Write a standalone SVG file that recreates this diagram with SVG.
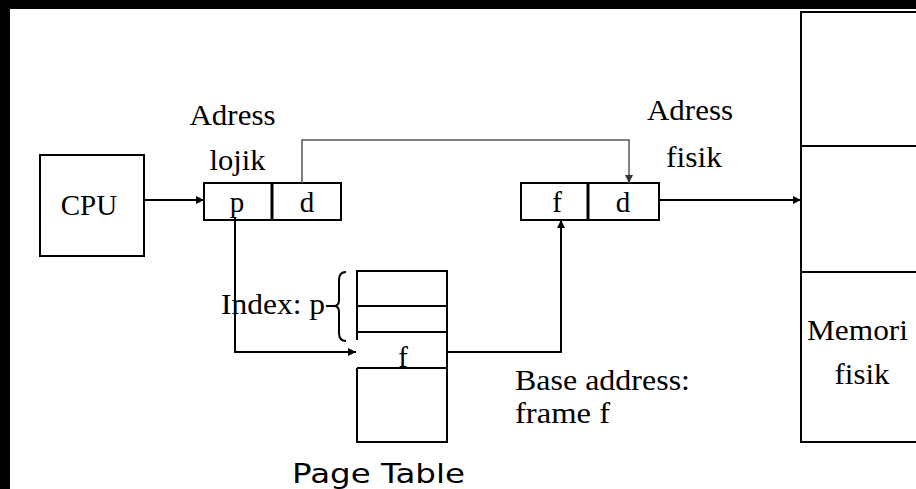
<svg xmlns="http://www.w3.org/2000/svg" width="916" height="489" viewBox="0 0 916 489">
<style>
.ln{fill:none;stroke:#000;stroke-width:2}
.gl{fill:none;stroke:#555;stroke-width:1.5}
.t{font-family:"Liberation Serif","Times New Roman",serif;font-size:29px;fill:#000}
.s{font-family:"DejaVu Sans",Verdana,sans-serif;font-size:27px;fill:#000}
</style>
<defs>
<marker id="ah" viewBox="0 0 10 10" refX="10" refY="5" markerWidth="10" markerHeight="8" markerUnits="userSpaceOnUse" orient="auto">
<path d="M0,0 L10,5 L0,10 z" fill="#000"/>
</marker>
<marker id="ahg" viewBox="0 0 10 10" refX="10" refY="5" markerWidth="10" markerHeight="8" markerUnits="userSpaceOnUse" orient="auto">
<path d="M0,0 L10,5 L0,10 z" fill="#333"/>
</marker>
</defs>
<rect x="0" y="0" width="916" height="489" fill="#000"/>
<rect x="10" y="9" width="906" height="480" fill="#fff"/>

<g id="cpu">
<rect class="ln" x="40" y="155" width="104" height="101"/>
<text class="t" x="89" y="215" text-anchor="middle">CPU</text>
</g>

<g id="logical-address">
<rect class="ln" x="204" y="183" width="137" height="37"/>
<line x1="272" y1="183" x2="272" y2="220" stroke="#000" stroke-width="3"/>
<text class="t" x="237" y="212" text-anchor="middle">p</text>
<text class="t" x="307" y="212" text-anchor="middle">d</text>
<text class="t" x="232.5" y="125" text-anchor="middle" textLength="86" lengthAdjust="spacingAndGlyphs">Adress</text>
<text class="t" x="237.5" y="170" text-anchor="middle" textLength="56" lengthAdjust="spacingAndGlyphs">lojik</text>
</g>

<g id="physical-address">
<rect class="ln" x="521" y="183" width="138" height="37"/>
<line x1="588" y1="183" x2="588" y2="220" stroke="#000" stroke-width="3"/>
<text class="t" x="557" y="212" text-anchor="middle">f</text>
<text class="t" x="623" y="212" text-anchor="middle">d</text>
<text class="t" x="690" y="120" text-anchor="middle" textLength="86" lengthAdjust="spacingAndGlyphs">Adress</text>
<text class="t" x="694" y="167" text-anchor="middle" textLength="56" lengthAdjust="spacingAndGlyphs">fisik</text>
</g>

<g id="page-table">
<path class="ln" d="M357,340 L357,271 L447,271 L447,442 L357,442 L357,368"/>
<line class="ln" x1="357" y1="306" x2="447" y2="306"/>
<line class="ln" x1="357" y1="332" x2="447" y2="332"/>
<line class="ln" x1="357" y1="368" x2="447" y2="368"/>
<text class="t" x="403" y="367" text-anchor="middle">f</text>
<path class="ln" d="M346,272 Q339,272 339,280 L339,300 Q339,306 334,306 Q339,306 339,312 L339,333 Q339,341 346,341" stroke-width="1.8"/>
<line class="ln" x1="326" y1="306" x2="334" y2="306"/>
<text class="t" x="221" y="314" textLength="104" lengthAdjust="spacingAndGlyphs">Index: p</text>
<text class="s" x="292" y="483" textLength="173" lengthAdjust="spacingAndGlyphs">Page Table</text>
</g>

<g id="base-address-label">
<text class="t" x="515" y="390" textLength="175" lengthAdjust="spacingAndGlyphs">Base address:</text>
<text class="t" x="515" y="423" textLength="95" lengthAdjust="spacingAndGlyphs">frame f</text>
</g>

<g id="physical-memory">
<rect class="ln" x="801" y="12" width="130" height="430"/>
<line class="ln" x1="801" y1="146" x2="931" y2="146"/>
<line class="ln" x1="801" y1="272" x2="931" y2="272"/>
<text class="t" x="857.5" y="340" text-anchor="middle" textLength="101" lengthAdjust="spacingAndGlyphs">Memori</text>
<text class="t" x="862" y="384" text-anchor="middle" textLength="55" lengthAdjust="spacingAndGlyphs">fisik</text>
</g>

<g id="connectors">
<line class="ln" x1="144" y1="200" x2="204" y2="200" marker-end="url(#ah)"/>
<path class="gl" d="M302,183 L302,140 L629,140 L629,183" marker-end="url(#ahg)"/>
<path class="ln" d="M235,217 L235,352 L356,352" marker-end="url(#ah)"/>
<path class="ln" d="M447,352 L561,352 L561,220" marker-end="url(#ah)"/>
<line class="ln" x1="659" y1="200" x2="801" y2="200" marker-end="url(#ah)"/>
</g>
</svg>
